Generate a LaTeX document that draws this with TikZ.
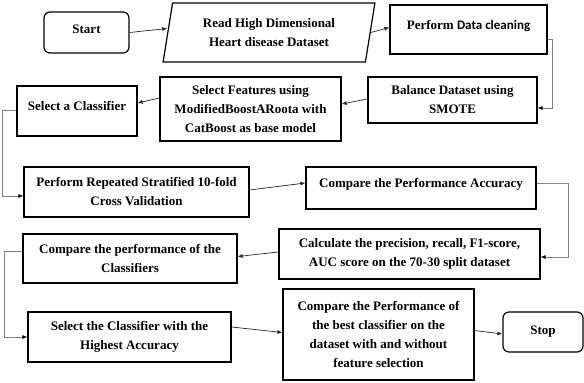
\documentclass[tikz,border=0pt]{standalone}
\usepackage{fontspec}
\setmainfont{Liberation Serif}
\newfontfamily\cleanfont{Carlito}
\usetikzlibrary{shapes.geometric,arrows.meta}
\tikzset{
  stepfont/.style={font=\bfseries\fontsize{13}{19}\selectfont, align=center},
  terminal/.style={stepfont, draw=black, line width=1.2pt, rounded corners=6pt, inner sep=0pt},
  process/.style={stepfont, draw=black, line width=1.2pt, inner sep=0pt},
  dataio/.style={stepfont, draw=black, line width=1.2pt, trapezium, trapezium left angle=77, trapezium right angle=103, trapezium stretches=true, inner sep=0pt},
  lifted/.style={text depth=#1},
  flow/.style={draw=black!85, line width=0.7pt, -{Latex[length=5pt,width=4pt]}},
  elbow/.style={draw=black!50, line width=0.8pt, -{Latex[length=5pt,width=4pt,color=black]}},
}
\begin{document}
\begin{tikzpicture}[x=1pt, y=-1pt]
\useasboundingbox (0,0) rectangle (584,383);
\node[terminal, minimum width=85pt, minimum height=41pt, lifted=6pt] (start) at (86.5,32.5) {Start};
\node[dataio, minimum width=212pt, minimum height=59pt] (read) at (269,32.5) {Read High Dimensional\\Heart disease Dataset};
\node[process, minimum width=157pt, minimum height=49pt, lifted=10pt] (clean) at (468.5,29.5) {Perform {\cleanfont Data cleaning}};
\node[process, minimum width=169pt, minimum height=46pt] (balance) at (452.5,100) {Balance Dataset using\\SMOTE};
\node[process, minimum width=181pt, minimum height=64pt] (features) at (250.5,109) {Select Features using\\ModifiedBoostARoota with\\CatBoost as base model};
\node[process, minimum width=120pt, minimum height=50pt, lifted=10pt] (classifier) at (77,111) {Select a Classifier};
\node[process, minimum width=225pt, minimum height=50pt] (repeated) at (136.5,192) {Perform Repeated Stratified 10-fold\\Cross Validation};
\node[process, minimum width=230pt, minimum height=42pt, lifted=10pt] (accuracy) at (421,188) {Compare the Performance Accuracy};
\node[process, minimum width=261pt, minimum height=50pt] (calculate) at (409.5,254) {Calculate the precision, recall, F1-score,\\AUC score on the 70-30 split dataset};
\node[process, minimum width=214pt, minimum height=49pt] (comparecls) at (130,258.5) {Compare the performance of the\\Classifiers};
\node[process, minimum width=203pt, minimum height=50pt] (highest) at (129.5,337) {Select the Classifier with the\\Highest Accuracy};
\node[process, minimum width=191pt, minimum height=91pt] (best) at (378.5,334.5) {Compare the Performance of\\the best classifier on the\\dataset with and without\\feature selection};
\node[terminal, minimum width=80pt, minimum height=40pt] (stop) at (543,332) {Stop};
\draw[flow] (start.east) -- ([yshift=4pt]read.west);
\draw[flow] (read.east) -- ([yshift=2pt]clean.west);
\draw[elbow] ([yshift=-10pt]clean.east) -- ++(5,0) |- ([yshift=-8pt]balance.east);
\draw[flow] ([yshift=1pt]balance.west) -- ([yshift=5pt]features.east);
\draw[flow] ([yshift=11pt]features.west) -- ([yshift=8pt]classifier.east);
\draw[elbow] ([yshift=1pt]classifier.west) -- ++(-14,0) |- ([yshift=-4pt]repeated.west);
\draw[flow] ([yshift=2pt]repeated.east) -- ([yshift=5pt]accuracy.west);
\draw[elbow] ([yshift=5pt]accuracy.east) -- ++(32,0) |- ([yshift=-3pt]calculate.east);
\draw[flow] ([yshift=2pt]calculate.west) -- ([yshift=2pt]comparecls.east);
\draw[elbow] ([yshift=7pt]comparecls.west) -- ++(-18,0) |- (highest.west);
\draw[flow] ([yshift=10pt]highest.east) -- ([yshift=2pt]best.west);
\draw[flow] ([yshift=4pt]best.east) -- ([yshift=-2pt]stop.west);
\end{tikzpicture}
\end{document}
